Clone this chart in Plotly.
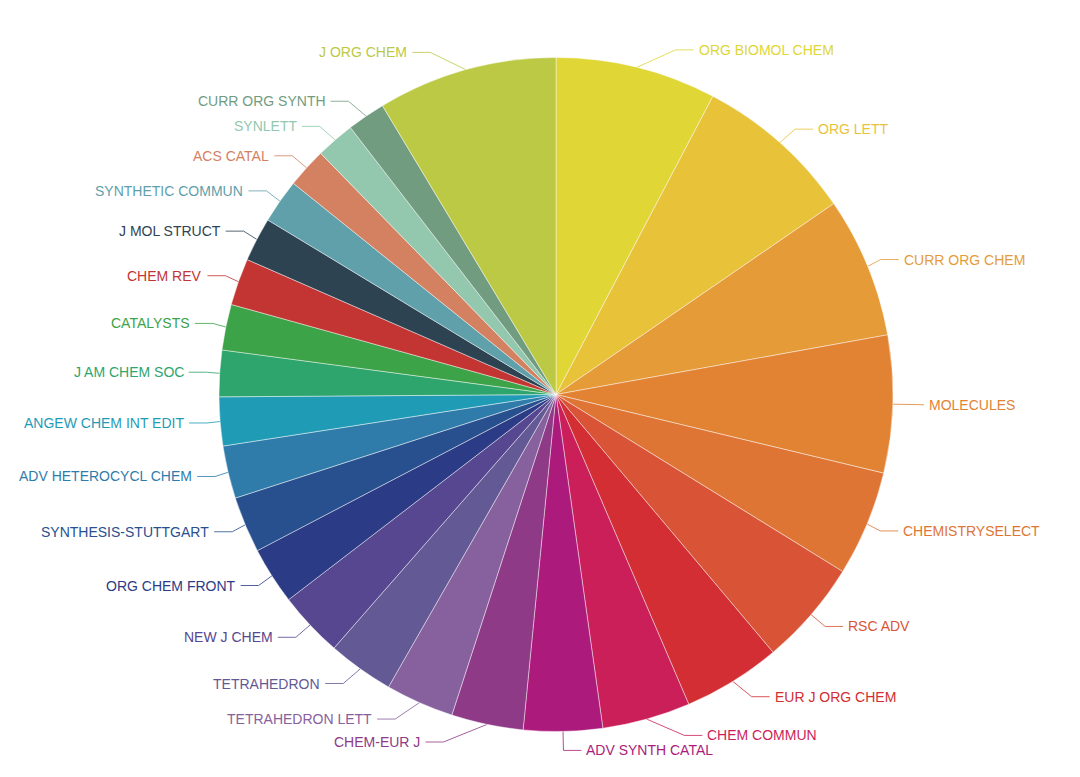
import math
import plotly.graph_objects as go

# ---- data (clockwise from 12 o'clock) ----
journals = [
    "ORG BIOMOL CHEM", "ORG LETT", "CURR ORG CHEM", "MOLECULES", "CHEMISTRYSELECT",
    "RSC ADV", "EUR J ORG CHEM", "CHEM COMMUN", "ADV SYNTH CATAL", "CHEM-EUR J",
    "TETRAHEDRON LETT", "TETRAHEDRON", "NEW J CHEM", "ORG CHEM FRONT", "SYNTHESIS-STUTTGART",
    "ADV HETEROCYCL CHEM", "ANGEW CHEM INT EDIT", "J AM CHEM SOC", "CATALYSTS", "CHEM REV",
    "J MOL STRUCT", "SYNTHETIC COMMUN", "ACS CATAL", "SYNLETT", "CURR ORG SYNTH", "J ORG CHEM",
]
shares = [
    27.75, 27.75, 24.3, 23.7, 18.2,
    18.2, 16.9, 15.2, 13.6, 12.4,
    11.8, 11.4, 11.3, 9.9, 9.7,
    9.1, 8.4, 8.0, 7.9, 8.1,
    7.6, 7.6, 6.9, 6.7, 6.6, 31.0,
]
colors = [
    "#e0d636", "#e8c33a", "#e59b37", "#e28334", "#df7535",
    "#d95436", "#d22e33", "#cb1f5a", "#ac1b7b", "#8e3a87",
    "#87609e", "#635995", "#574690", "#2c3b86", "#28508f",
    "#2f7cab", "#1f9bb6", "#2ea56c", "#3ca348", "#c23533",
    "#2e4352", "#5fa0ab", "#d48162", "#93c8ae", "#729c80", "#bcc945",
]

# ---- geometry (pixels) ----
W, H = 1080, 777
CX, CY, R = 556.0, 394.5, 337.0
LEN1, LEN2, GAP, LH = 18.0, 18.0, 5.0, 15.0

fig = go.Figure()
fig.add_trace(go.Pie(
    labels=journals, values=shares, sort=False, direction="clockwise", rotation=0,
    marker=dict(colors=colors, line=dict(color="rgba(255,255,255,0.55)", width=0.8)),
    textinfo="none", hoverinfo="label+percent", showlegend=False,
    domain=dict(x=[(CX - R) / W, (CX + R) / W], y=[(H - CY - R) / H, (H - CY + R) / H]),
))

# ---- label layout (outer labels with leader lines) ----
total = sum(shares)
items = []
cum = 0.0
for name, v, c in zip(journals, shares, colors):
    mid = (cum + v / 2) / total * 2 * math.pi
    cum += v
    dx, dy = math.sin(mid), -math.cos(mid)
    x1, y1 = CX + R * dx, CY + R * dy
    x2, y2 = x1 + dx * LEN1, y1 + dy * LEN1
    sgn = -1 if dx < 0 else 1
    x3 = x2 + sgn * LEN2
    items.append(dict(name=name, color=c, x1=x1, y1=y1, x=x3 + sgn * GAP, y=y2, sgn=sgn))


def adjust_side(lst, sgn):
    lst.sort(key=lambda it: it["y"])
    n = len(lst)

    def shift_up(end, delta):
        for j in range(end, -1, -1):
            if lst[j]["y"] - delta < 0:
                break
            lst[j]["y"] -= delta
            if j > 0 and lst[j]["y"] > lst[j - 1]["y"] + LH:
                break

    def shift_down(start, end, delta):
        for j in range(start, end):
            if lst[j]["y"] + delta > H:
                break
            lst[j]["y"] += delta
            if j > start and j + 1 < end and lst[j + 1]["y"] > lst[j]["y"] + LH:
                shift_up(j, delta / 2)
                return
        shift_up(end - 1, delta / 2)

    last_y = 0.0
    for i in range(n):
        delta = lst[i]["y"] - last_y
        if delta < 0:
            shift_down(i, n, -delta)
        last_y = lst[i]["y"] + LH
    if H - last_y < 0:
        shift_up(n - 1, last_y - H)

    up = [it for it in lst if it["y"] < CY]
    down = [it for it in lst if it["y"] >= CY]
    for part, is_down in ((up, False), (down, True)):
        last_dx = float("inf") if is_down else 0.0
        for it in part:
            ddy = abs(it["y"] - CY)
            if ddy < R + LEN1:
                ddx = math.sqrt((R + LEN1 + LEN2) ** 2 - ddy ** 2)
            else:
                ddx = abs(it["x"] - CX)
            if is_down and ddx >= last_dx:
                ddx = last_dx - 10
            if (not is_down) and ddx <= last_dx:
                ddx = last_dx + 10
            it["x"] = CX + ddx * sgn
            last_dx = ddx


adjust_side([it for it in items if it["sgn"] > 0], 1)
adjust_side([it for it in items if it["sgn"] < 0], -1)

annotations = []
for it in items:
    s = it["sgn"]
    xe = it["x"] - s * GAP
    xm = xe - s * LEN2
    fig.add_trace(go.Scatter(
        x=[it["x1"], xm, xe], y=[it["y1"], it["y"], it["y"]],
        mode="lines", line=dict(color=it["color"], width=1), opacity=0.8,
        hoverinfo="skip", showlegend=False,
    ))
    annotations.append(dict(
        x=it["x"], y=it["y"], xref="x", yref="y", text=it["name"], showarrow=False,
        xanchor="left" if s > 0 else "right", yanchor="middle",
        borderpad=0, borderwidth=0,
        font=dict(family="Liberation Sans, Arial, sans-serif", size=14, color=it["color"]),
    ))

fig.update_layout(
    width=W, height=H, margin=dict(l=0, r=0, t=0, b=0),
    paper_bgcolor="white", plot_bgcolor="rgba(0,0,0,0)",
    xaxis=dict(range=[0, W], visible=False, fixedrange=True, domain=[0, 1]),
    yaxis=dict(range=[H, 0], visible=False, fixedrange=True, domain=[0, 1]),
    annotations=annotations,
)
fig.write_html("out.html")
